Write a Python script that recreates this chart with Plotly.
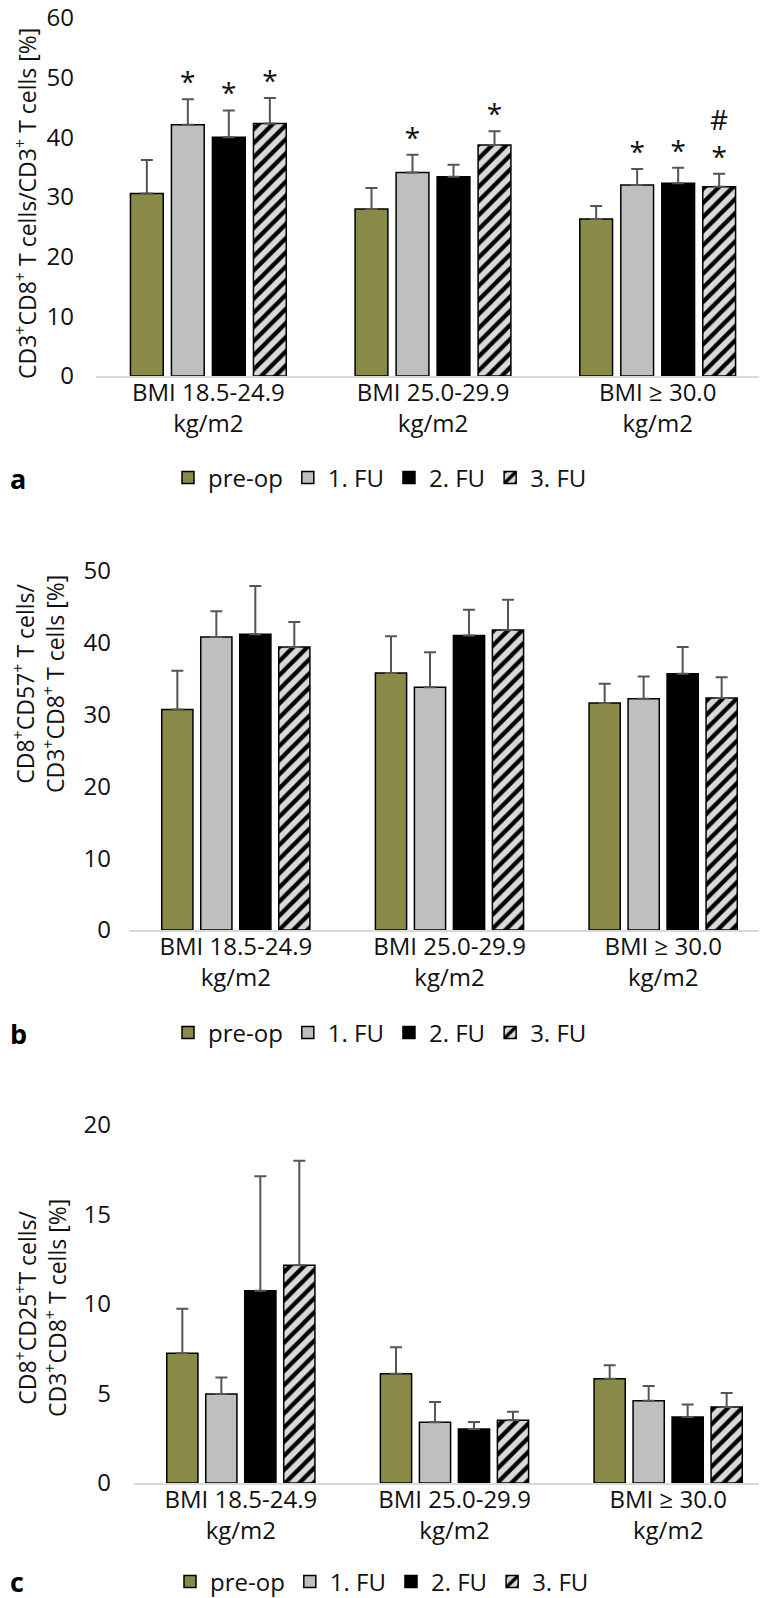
import plotly.graph_objects as go

categories = ["BMI 18.5-24.9<br>kg/m2", "BMI 25.0-29.9<br>kg/m2", "BMI ≥ 30.0<br>kg/m2"]
series = ["pre-op", "1. FU", "2. FU", "3. FU"]

# Panel a: CD3+CD8+ / CD3+ (%)
a_preop = [30.6, 28.0, 26.3]
a_fu1 = [42.1, 34.1, 32.0]
a_fu2 = [40.0, 33.4, 32.3]
a_fu3 = [42.3, 38.7, 31.7]
a_preop_err = [5.6, 3.5, 2.2]
a_fu1_err = [4.3, 3.0, 2.7]
a_fu2_err = [4.5, 2.0, 2.6]
a_fu3_err = [4.3, 2.3, 2.2]
a_preop_sig = ["", "", ""]
a_fu1_sig = ["*", "*", "*"]
a_fu2_sig = ["*", "", "*"]
a_fu3_sig = ["*", "*", "#<br>*"]

# Panel b: CD8+CD57+ / CD3+CD8+ (%)
b_preop = [30.7, 35.8, 31.6]
b_fu1 = [40.8, 33.8, 32.2]
b_fu2 = [41.2, 41.0, 35.7]
b_fu3 = [39.4, 41.8, 32.3]
b_preop_err = [5.4, 5.1, 2.7]
b_fu1_err = [3.6, 4.9, 3.1]
b_fu2_err = [6.7, 3.6, 3.7]
b_fu3_err = [3.5, 4.2, 2.9]

# Panel c: CD8+CD25+ / CD3+CD8+ (%)
c_preop = [7.25, 6.1, 5.83]
c_fu1 = [4.97, 3.39, 4.6]
c_fu2 = [10.74, 3.02, 3.69]
c_fu3 = [12.16, 3.5, 4.25]
c_preop_err = [2.49, 1.48, 0.75]
c_fu1_err = [0.93, 1.13, 0.82]
c_fu2_err = [6.39, 0.39, 0.69]
c_fu3_err = [5.84, 0.48, 0.78]

FONT = "Open Sans"
TXT = "#111111"
W, H = 767, 1598
TICK_SIZE = 24
LEG_SIZE = 24

colors = ["#8A8A48", "#BFBFBF", "#000000", "#D9D9D9"]
patterns = [None, None, None, dict(shape="/", fgcolor="#000000", bgcolor="#D9D9D9",
                                   size=10, solidity=0.42, fillmode="replace")]

panels = [
    dict(means=[a_preop, a_fu1, a_fu2, a_fu3], errs=[a_preop_err, a_fu1_err, a_fu2_err, a_fu3_err],
         sig=[a_preop_sig, a_fu1_sig, a_fu2_sig, a_fu3_sig], legend="legend"),
    dict(means=[b_preop, b_fu1, b_fu2, b_fu3], errs=[b_preop_err, b_fu1_err, b_fu2_err, b_fu3_err],
         sig=None, legend="legend2"),
    dict(means=[c_preop, c_fu1, c_fu2, c_fu3], errs=[c_preop_err, c_fu1_err, c_fu2_err, c_fu3_err],
         sig=None, legend="legend3"),
]

fig = go.Figure()
for p_i, p in enumerate(panels):
    xa = "x" if p_i == 0 else f"x{p_i + 1}"
    ya = "y" if p_i == 0 else f"y{p_i + 1}"
    for s_i, name in enumerate(series):
        marker = dict(color=colors[s_i], line=dict(color="#000000", width=1.5))
        if patterns[s_i]:
            marker["pattern"] = patterns[s_i]
        fig.add_trace(go.Bar(
            x=categories, y=p["means"][s_i], name=name, marker=marker,
            error_y=dict(type="data", array=p["errs"][s_i], symmetric=False,
                         arrayminus=[0] * len(categories), color="#555555",
                         thickness=2, width=6),
            xaxis=xa, yaxis=ya, legend=p["legend"],
        ))
    if p["sig"]:
        for s_i, name in enumerate(series):
            tops = [m + e for m, e in zip(p["means"][s_i], p["errs"][s_i])]
            fig.add_trace(go.Scatter(
                x=categories, y=tops, text=p["sig"][s_i], mode="text",
                textposition="top center", textfont=dict(size=28, color=TXT, family=FONT),
                showlegend=False, cliponaxis=False, hoverinfo="skip",
                xaxis=xa, yaxis=ya,
            ))

def py(px):
    return 1 - px / H

# plot-area boxes in pixels: (x0, x1, ytop, ybottom)
boxes = [(88, 762, 10, 368), (121, 762, 563, 922), (126, 767, 1117, 1475)]
ranges = [[0, 60], [0, 50], [0, 20]]
dticks = [10, 10, 5]
standoffs = [21, 17, 22]

layout = dict(
    width=W, height=H, margin=dict(l=0, r=0, t=0, b=0, autoexpand=False),
    paper_bgcolor="white", plot_bgcolor="white",
    font=dict(family=FONT, size=23, color=TXT),
    barmode="group", bargap=0.27, bargroupgap=0.2,
    scattermode="group",
)
for i, (bx, r, dt, so) in enumerate(zip(boxes, ranges, dticks, standoffs)):
    sx = "" if i == 0 else str(i + 1)
    x0, x1, yt, yb = bx
    layout[f"xaxis{sx}"] = dict(
        domain=[x0 / W, x1 / W], anchor=f"y{sx}", type="category",
        showline=True, linecolor="#D9D9D9", linewidth=2, ticks="",
        showgrid=False, zeroline=False, automargin=False, ticklabeloverflow="allow",
        ticklabelstandoff=-6,
        tickfont=dict(family=FONT, size=TICK_SIZE, color=TXT),
    )
    layout[f"yaxis{sx}"] = dict(
        domain=[py(yb), py(yt)], anchor=f"x{sx}", range=r, dtick=dt,
        showline=False, showgrid=False, zeroline=False, ticks="", automargin=False,
        ticklabeloverflow="allow",
        ticklabelstandoff=so, tickfont=dict(family=FONT, size=TICK_SIZE, color=TXT),
    )

leg_common = dict(orientation="h", xanchor="left", yanchor="middle",
                  font=dict(family=FONT, size=LEG_SIZE, color=TXT), bgcolor="rgba(0,0,0,0)",
                  traceorder="normal")
layout["legend"] = dict(x=160 / W, y=py(470), **leg_common)
layout["legend2"] = dict(x=160 / W, y=py(1025), **leg_common)
layout["legend3"] = dict(x=162 / W, y=py(1574), **leg_common)

fig.update_layout(**layout)

ytitles = [
    ("CD3<sup>+</sup>CD8<sup>+</sup> T cells/CD3<sup>+</sup> T cells [%]", 18, 196),
    ("CD8<sup>+</sup>CD57<sup>+</sup> T cells/<br>CD3<sup>+</sup>CD8<sup>+</sup> T cells [%]", 31, 676),
    ("CD8<sup>+</sup>CD25<sup>+</sup>T cells/<br>CD3<sup>+</sup>CD8<sup>+</sup> T cells [%]", 33, 1300),
]
for t, x, y in ytitles:
    fig.add_annotation(text=t, x=x / W, y=py(y), xref="paper", yref="paper",
                       textangle=-90, showarrow=False, xanchor="center", yanchor="middle",
                       font=dict(size=23, color=TXT, family=FONT))

for letter, y in [("a", 470), ("b", 1025), ("c", 1573)]:
    fig.add_annotation(text=f"<b>{letter}</b>", x=0, y=py(y), xref="paper", yref="paper",
                       showarrow=False, xanchor="left", yanchor="middle",
                       font=dict(size=27, color="#000000", family=FONT))

fig.write_html("out.html")
